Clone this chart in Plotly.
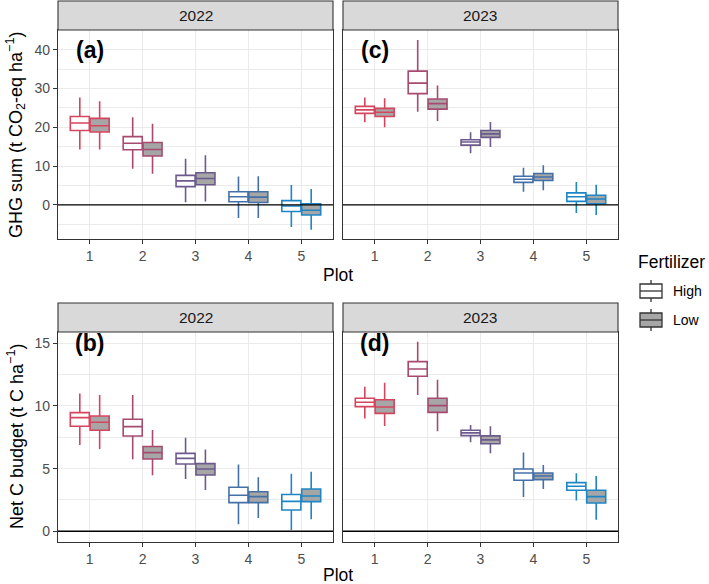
import plotly.graph_objects as go

# ---------------- data (lower whisker, Q1, median, Q3, upper whisker) ----------------
plots = [1, 2, 3, 4, 5]
tick_labels = ["1", "2", "3", "4", "5"]
years = ["2022", "2023"]
fertilizers = ["High", "Low"]
plot_colors = ["#D6455E", "#A84A70", "#6C5A8C", "#4470A8", "#1F86C6"]

ghg_2022_high = [(14.3, 19.2, 21.1, 22.8, 27.7), (9.3, 14.2, 15.9, 17.6, 22.6), (0.7, 4.7, 6.2, 7.6, 11.9),
                 (-3.4, 0.8, 2.1, 3.4, 7.3), (-5.7, -1.7, -0.3, 1.1, 5.1)]
ghg_2022_low = [(14.3, 18.8, 20.4, 22.3, 26.7), (8.0, 12.6, 14.3, 16.1, 20.9), (0.9, 5.2, 6.8, 8.3, 12.8),
                (-3.4, 0.6, 2.0, 3.4, 7.4), (-6.4, -2.6, -1.4, 0.3, 4.1)]
ghg_2023_high = [(21.3, 23.6, 24.5, 25.4, 27.7), (24.0, 28.7, 31.4, 34.5, 42.5), (13.3, 15.4, 16.2, 16.8, 18.7),
                 (3.4, 5.8, 6.6, 7.4, 9.6), (-2.1, 0.9, 2.1, 3.1, 5.9)]
ghg_2023_low = [(20.0, 22.8, 23.9, 24.9, 27.5), (21.6, 24.7, 26.1, 27.3, 30.8), (14.9, 17.4, 18.3, 19.2, 21.4),
                (3.8, 6.3, 7.2, 8.1, 10.2), (-2.6, 0.3, 1.5, 2.5, 5.2)]
netc_2022_high = [(6.89, 8.38, 9.07, 9.47, 11.0), (5.74, 7.6, 8.35, 8.94, 10.88), (4.18, 5.37, 5.82, 6.22, 7.47),
                  (0.56, 2.29, 2.87, 3.51, 5.32), (0.1, 1.7, 2.39, 2.93, 4.6)]
netc_2022_low = [(6.57, 8.06, 8.7, 9.2, 10.88), (4.47, 5.77, 6.28, 6.76, 8.09), (3.3, 4.49, 4.97, 5.4, 6.52),
                 (1.06, 2.29, 2.77, 3.16, 4.31), (0.96, 2.37, 2.82, 3.38, 4.76)]
netc_2023_high = [(8.99, 9.95, 10.29, 10.61, 11.54), (10.88, 12.37, 12.95, 13.54, 15.13), (7.1, 7.63, 7.85, 8.06, 8.48),
                  (2.74, 4.07, 4.65, 4.97, 6.28), (2.45, 3.27, 3.59, 3.88, 4.63)]
netc_2023_low = [(8.4, 9.41, 9.92, 10.5, 11.86), (7.98, 9.49, 10.03, 10.61, 12.1), (6.22, 6.99, 7.29, 7.61, 8.38),
                 (3.38, 4.12, 4.41, 4.65, 5.29), (0.93, 2.26, 2.77, 3.27, 4.41)]

# ---------------- layout helpers ----------------
W, H = 709, 584
FONT = "Liberation Sans, Arial, sans-serif"
px_x = lambda p: p / W
px_y = lambda p: 1 - p / H

panels = [
    # (axis suffix, data high, data low, x px range, y px range, label, year)
    ("", ghg_2022_high, ghg_2022_low, (58, 333), (30, 239), "(a)", "2022"),
    ("2", ghg_2023_high, ghg_2023_low, (343, 618), (30, 239), "(c)", "2023"),
    ("3", netc_2022_high, netc_2022_low, (58, 333), (332, 541.7), "(b)", "2022"),
    ("4", netc_2023_high, netc_2023_low, (343, 618), (332, 541.7), "(d)", "2023"),
]

fig = go.Figure()
offset = 0.1875
fills = {"High": "#FFFFFF", "Low": "#A6A6A6"}

for suffix, dhigh, dlow, xr, yr, lab, yr_name in panels:
    for fert, data, sign in (("High", dhigh, -1), ("Low", dlow, 1)):
        for i, p in enumerate(plots):
            lo, q1, med, q3, hi = data[i]
            fig.add_trace(go.Box(
                x=[p + sign * offset], q1=[q1], median=[med], q3=[q3],
                lowerfence=[lo], upperfence=[hi], width=0.36, whiskerwidth=0,
                line=dict(color=plot_colors[i], width=1.6), fillcolor=fills[fert],
                name=fert, showlegend=False, boxpoints=False,
                xaxis="x" + suffix, yaxis="y" + suffix, hoverinfo="skip"))

axis_common = dict(showline=True, mirror=True, linecolor="#333333", linewidth=1.1,
                   ticks="outside", ticklen=4, tickcolor="#333333", tickwidth=1.1,
                   gridcolor="#EBEBEB", gridwidth=1.1, zeroline=False, automargin=False,
                   tickfont=dict(family=FONT, size=14, color="#4D4D4D"))

layout = dict(width=W, height=H, margin=dict(l=0, r=0, t=0, b=0),
              plot_bgcolor="white", paper_bgcolor="white", showlegend=False,
              font=dict(family=FONT))
shapes, annotations = [], []

for k, (suffix, dhigh, dlow, xr, yr, lab, yr_name) in enumerate(panels):
    top = k < 2
    yrange = [-8.8, 45.1] if top else [-0.83, 15.9]
    ydtick = 10 if top else 5
    layout["xaxis" + suffix] = dict(axis_common, domain=[px_x(xr[0]), px_x(xr[1])], range=[0.4, 5.6],
                                    tickvals=plots, ticktext=tick_labels, anchor="y" + suffix,
                                    ticklabelstandoff=0)
    ya = dict(axis_common, domain=[px_y(yr[1]), px_y(yr[0])], range=yrange, dtick=ydtick, tick0=0,
              anchor="x" + suffix,
              minor=dict(dtick=ydtick / 2, tick0=0, showgrid=True, gridcolor="#EBEBEB", gridwidth=0.55, ticks=""))
    if k % 2 == 1:
        ya["showticklabels"] = False
        ya["ticks"] = ""
    layout["yaxis" + suffix] = ya
    # zero line
    shapes.append(dict(type="line", xref="x" + suffix + " domain", yref="y" + suffix, x0=0, x1=1, y0=0, y1=0,
                       line=dict(color="black", width=1.4), layer="above"))
    # strip
    shapes.append(dict(type="rect", xref="paper", yref="paper", x0=px_x(xr[0]), x1=px_x(xr[1]),
                       y0=px_y(yr[0]), y1=px_y(yr[0] - 29), fillcolor="#D9D9D9",
                       line=dict(color="#333333", width=1.1)))
    annotations.append(dict(xref="paper", yref="paper", x=px_x((xr[0] + xr[1]) / 2), y=px_y(yr[0] - 14.5),
                            text=yr_name, showarrow=False, xanchor="center", yanchor="middle",
                            font=dict(family=FONT, size=15.5, color="#1A1A1A")))
    # panel label
    annotations.append(dict(xref="x" + suffix, yref="y" + suffix, x=1, y=40 if top else 15, text="<b>" + lab + "</b>",
                            showarrow=False, xanchor="center", yanchor="middle",
                            font=dict(family=FONT, size=23, color="black")))

# axis titles
annotations += [
    dict(xref="paper", yref="paper", x=px_x(15), y=px_y(135), textangle=-90,
         text="GHG sum (t CO<sub>2</sub>-eq ha<sup>\u22121</sup>)", showarrow=False,
         xanchor="center", yanchor="middle", font=dict(family=FONT, size=18, color="black")),
    dict(xref="paper", yref="paper", x=px_x(15), y=px_y(437), textangle=-90,
         text="Net C budget (t C ha<sup>\u22121</sup>)", showarrow=False,
         xanchor="center", yanchor="middle", font=dict(family=FONT, size=18, color="black")),
    dict(xref="paper", yref="paper", x=px_x(338), y=px_y(275), text="Plot", showarrow=False,
         xanchor="center", yanchor="middle", font=dict(family=FONT, size=17.5, color="black")),
    dict(xref="paper", yref="paper", x=px_x(338), y=px_y(575), text="Plot", showarrow=False,
         xanchor="center", yanchor="middle", font=dict(family=FONT, size=17.5, color="black")),
]

# legend (drawn manually, ggplot-style keys)
annotations.append(dict(xref="paper", yref="paper", x=px_x(636), y=px_y(262), text="Fertilizer", showarrow=False,
                        xanchor="left", yanchor="middle", font=dict(family=FONT, size=17.5, color="black")))
for j, fert in enumerate(fertilizers):
    cy = 291 + j * 29
    shapes.append(dict(type="line", xref="paper", yref="paper", x0=px_x(651), x1=px_x(651),
                       y0=px_y(cy - 11), y1=px_y(cy + 11), line=dict(color="#333333", width=1.3)))
    shapes.append(dict(type="rect", xref="paper", yref="paper", x0=px_x(640), x1=px_x(662),
                       y0=px_y(cy - 7), y1=px_y(cy + 7), fillcolor=fills[fert],
                       line=dict(color="#333333", width=1.3)))
    shapes.append(dict(type="line", xref="paper", yref="paper", x0=px_x(640), x1=px_x(662),
                       y0=px_y(cy), y1=px_y(cy), line=dict(color="#333333", width=1.3)))
    annotations.append(dict(xref="paper", yref="paper", x=px_x(671), y=px_y(cy), text=fert, showarrow=False,
                            xanchor="left", yanchor="middle", font=dict(family=FONT, size=14, color="black")))

layout["shapes"] = shapes
layout["annotations"] = annotations
fig.update_layout(**layout)
fig.write_html("out.html")
